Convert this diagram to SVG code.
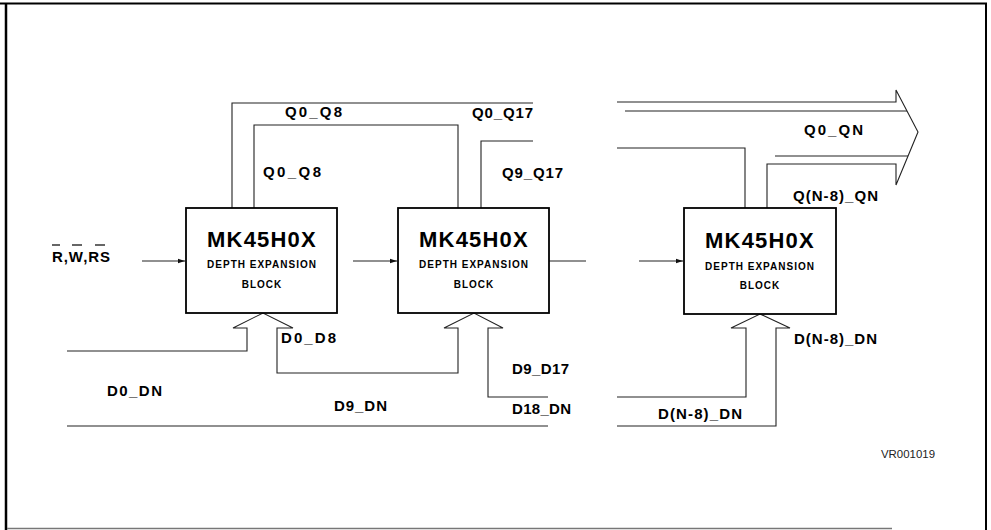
<svg xmlns="http://www.w3.org/2000/svg" width="991" height="530" viewBox="0 0 991 530">
<defs>
<marker id="ah" markerWidth="8" markerHeight="6" refX="7" refY="3" orient="auto" markerUnits="userSpaceOnUse">
<path d="M0,0.8 L7,3 L0,5.2 Z" fill="#111"/>
</marker>
<style>
.blk{fill:#fff;stroke:#000;stroke-width:1.8}
.w{fill:none;stroke:#222;stroke-width:1.1}
.t1{font-family:"Liberation Sans",Arial,sans-serif;font-weight:bold;font-size:22px;text-anchor:middle;fill:#000;letter-spacing:1.2px}
.t2{font-family:"Liberation Sans",Arial,sans-serif;font-weight:bold;font-size:10px;text-anchor:middle;fill:#000;letter-spacing:1px}
.lb{font-family:"Liberation Sans",Arial,sans-serif;font-weight:bold;font-size:15px;fill:#000}
.id{font-family:"Liberation Sans",Arial,sans-serif;font-size:11px;fill:#222}
</style>
</defs>
<rect x="0" y="0" width="991" height="530" fill="#fff"/>
<g id="frame" fill="none">
<line x1="0" y1="3.5" x2="987" y2="3.5" stroke="#000" stroke-width="2"/>
<line x1="6" y1="3" x2="6" y2="530" stroke="#000" stroke-width="2.5"/>
<line x1="986" y1="3" x2="986" y2="530" stroke="#000" stroke-width="2"/>
<line x1="7" y1="528.5" x2="892" y2="528.5" stroke="#777" stroke-width="1.5"/>
</g>
<g id="connectors">
<path class="w" d="M142,261 H185" marker-end="url(#ah)"/>
<path class="w" d="M353,261 H397" marker-end="url(#ah)"/>
<path class="w" d="M549,261 H586"/>
<path class="w" d="M639,261 H683" marker-end="url(#ah)"/>
<path class="w" d="M232,208 V103 H533"/>
<path class="w" d="M254,208 V125 H458 V208"/>
<path class="w" d="M481,208 V141 H533"/>
<path class="w" d="M617,102 H896 V90 L918,132 L896,185 V164 H767 V208"/>
<path class="w" d="M625,111 H907"/>
<path class="w" d="M775,156 H908"/>
<path class="w" d="M617,148 H745 V208"/>
<path class="w" d="M67,351 H247 V328 H233 L263,313 L293,328 H277 V373 H458 V328 H444 L474,313 L503,328 H488 V397 H548"/>
<path class="w" d="M617,397 H746 V328 H731 L760,314 L790,328 H776 V426 H617"/>
<path class="w" d="M67,426 H548"/>
</g>
<g id="block1">
<rect class="blk" x="186" y="208" width="151" height="105"/>
<text class="t1" x="262" y="247">MK45H0X</text>
<text class="t2" x="262" y="268">DEPTH EXPANSION</text>
<text class="t2" x="262" y="288">BLOCK</text>
</g>
<g id="block2">
<rect class="blk" x="398" y="208" width="151" height="105"/>
<text class="t1" x="474" y="247">MK45H0X</text>
<text class="t2" x="474" y="268">DEPTH EXPANSION</text>
<text class="t2" x="474" y="288">BLOCK</text>
</g>
<g id="block3">
<rect class="blk" x="684" y="208" width="152" height="106"/>
<text class="t1" x="760" y="248">MK45H0X</text>
<text class="t2" x="760" y="270">DEPTH EXPANSION</text>
<text class="t2" x="760" y="289">BLOCK</text>
</g>
<g id="labels">
<text class="lb" x="52" y="262" textLength="58" lengthAdjust="spacing">R,W,RS</text>
<g stroke="#000" stroke-width="1.2">
<line x1="52" y1="245" x2="60" y2="245"/>
<line x1="72" y1="245" x2="82" y2="245"/>
<line x1="95" y1="245" x2="105" y2="245"/>
</g>
<text class="lb" x="285" y="117" textLength="57" lengthAdjust="spacing">Q0_Q8</text>
<text class="lb" x="263" y="177" textLength="58" lengthAdjust="spacing">Q0_Q8</text>
<text class="lb" x="472" y="118" textLength="61" lengthAdjust="spacing">Q0_Q17</text>
<text class="lb" x="502" y="178" textLength="61" lengthAdjust="spacing">Q9_Q17</text>
<text class="lb" x="804" y="135" textLength="59" lengthAdjust="spacing">Q0_QN</text>
<text class="lb" x="793" y="201" textLength="85" lengthAdjust="spacing">Q(N-8)_QN</text>
<text class="lb" x="281" y="343" textLength="55" lengthAdjust="spacing">D0_D8</text>
<text class="lb" x="107" y="396" textLength="55" lengthAdjust="spacing">D0_DN</text>
<text class="lb" x="334" y="411" textLength="53" lengthAdjust="spacing">D9_DN</text>
<text class="lb" x="512" y="374" textLength="57" lengthAdjust="spacing">D9_D17</text>
<text class="lb" x="512" y="414" textLength="59" lengthAdjust="spacing">D18_DN</text>
<text class="lb" x="794" y="344" textLength="83" lengthAdjust="spacing">D(N-8)_DN</text>
<text class="lb" x="658" y="419" textLength="84" lengthAdjust="spacing">D(N-8)_DN</text>
<text class="id" x="881" y="458" textLength="54" lengthAdjust="spacingAndGlyphs">VR001019</text>
</g>
</svg>
